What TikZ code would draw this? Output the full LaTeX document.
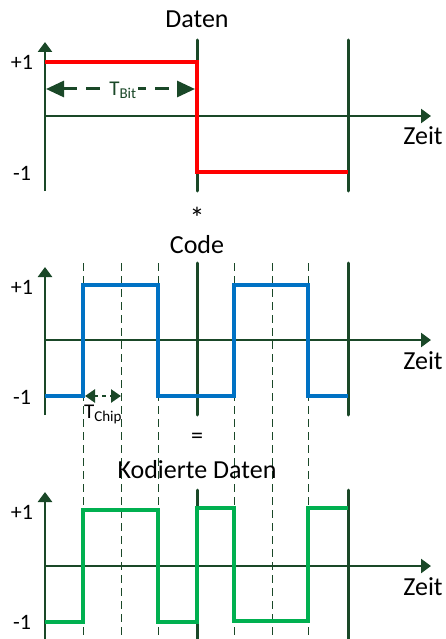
\documentclass[tikz,border=0pt]{standalone}
\usepackage{fontspec}
\setmainfont{Carlito}
\usetikzlibrary{arrows.meta}
\definecolor{dg}{RGB}{26,72,40}
\definecolor{rd}{RGB}{255,0,0}
\definecolor{bl}{RGB}{0,114,196}
\definecolor{gn}{RGB}{0,176,80}
\begin{document}
\begin{tikzpicture}[x=1pt,y=-1pt,
  axis/.style={dg,line width=2.5pt,-{Triangle[length=10pt,width=14pt]}},
  vline/.style={dg,line width=3pt,line cap=round},
  grid/.style={dg,line width=0.9pt,dash pattern=on 8pt off 5pt},
  sig/.style={line width=3.2pt,line join=miter},
  title/.style={anchor=base,inner sep=0pt,font=\fontsize{26}{30}\selectfont},
  lvl/.style={inner sep=0pt,font=\fontsize{22}{26}\selectfont},
  zeit/.style={anchor=base,inner sep=0pt,font=\fontsize{26}{30}\selectfont},
  per/.style={dg,line width=3pt,dash pattern=on 14pt off 9pt,
    {Triangle[length=18pt,width=16pt]}-{Triangle[length=18pt,width=16pt]}},
  perc/.style={dg,line width=2.5pt,dash pattern=on 4pt off 4pt,
    {Triangle[length=10pt,width=13pt]}-{Triangle[length=10pt,width=13pt]}},
]
\useasboundingbox (0,0) rectangle (446,639);

% ---------- dashed chip grid ----------
\foreach \x in {83,121,158,234,272,308}
  \draw[grid] (\x,263) -- (\x,639);

% ---------- top panel: Daten ----------
\node[title] (tDaten) at (197,28) {Daten};
\draw[axis] (45,191) -- (45,42);
\draw[axis] (45,116) -- (431,116);
\draw[vline] (197,40) -- (197,191);
\draw[vline] (348,40) -- (348,191);
\node[lvl] (p1a) at (22,62) {+1};
\node[lvl] (m1a) at (22,173) {-1};
\node[zeit] (za) at (423,145) {Zeit};
\draw[sig,rd] (45,62) -- (197,62) -- (197,172) -- (348,172);
\coordinate (tb1) at (46,89);
\coordinate (tb2) at (195,89);
\draw[per] (tb1) -- (tb2);
\node[dg,fill=white,inner sep=1pt,font=\fontsize{21}{24}\selectfont] (tbit) at (123,90)
  {T\textsubscript{\fontsize{15}{16}\selectfont Bit}};
\node[anchor=base,inner sep=0pt,font=\fontsize{30}{32}\selectfont] (star) at (197,228) {*};

% ---------- middle panel: Code ----------
\node[title] (tCode) at (197,253) {Code};
\draw[axis] (45,415) -- (45,267);
\draw[axis] (45,340) -- (431,340);
\draw[vline] (197,263) -- (197,415);
\draw[vline] (348,263) -- (348,415);
\node[lvl] (p1b) at (22,287) {+1};
\node[lvl] (m1b) at (22,397) {-1};
\node[zeit] (zb) at (423,369) {Zeit};
\draw[sig,bl] (45,396) -- (83,396) -- (83,285) -- (158,285) -- (158,396)
  -- (234,396) -- (234,285) -- (308,285) -- (308,396) -- (348,396);
\coordinate (tc1) at (85,396);
\coordinate (tc2) at (121,396);
\draw[perc] (tc1) -- (tc2);
\node[anchor=base,inner sep=0pt,font=\fontsize{21}{24}\selectfont] (tchip) at (103,418)
  {T\textsubscript{\fontsize{15}{16}\selectfont Chip}};

% ---------- bottom panel: Kodierte Daten ----------
\node[inner sep=0pt,font=\fontsize{24}{28}\selectfont] (eq) at (197,438) {=};
\node[title] (tKod) at (197,478) {Kodierte Daten};
\draw[axis] (45,639) -- (45,492);
\draw[axis] (45,566) -- (431,566);
\draw[vline] (197,490) -- (197,639);
\draw[vline] (348,490) -- (348,639);
\node[lvl] (p1c) at (22,512) {+1};
\node[lvl] (m1c) at (22,622) {-1};
\node[zeit] (zc) at (423,595) {Zeit};
\draw[sig,gn] (45,622) -- (83,622) -- (83,510) -- (158,510) -- (158,622)
  -- (197,622) -- (197,508) -- (234,508) -- (234,621) -- (308,621)
  -- (308,508) -- (348,508);
\end{tikzpicture}
\end{document}
